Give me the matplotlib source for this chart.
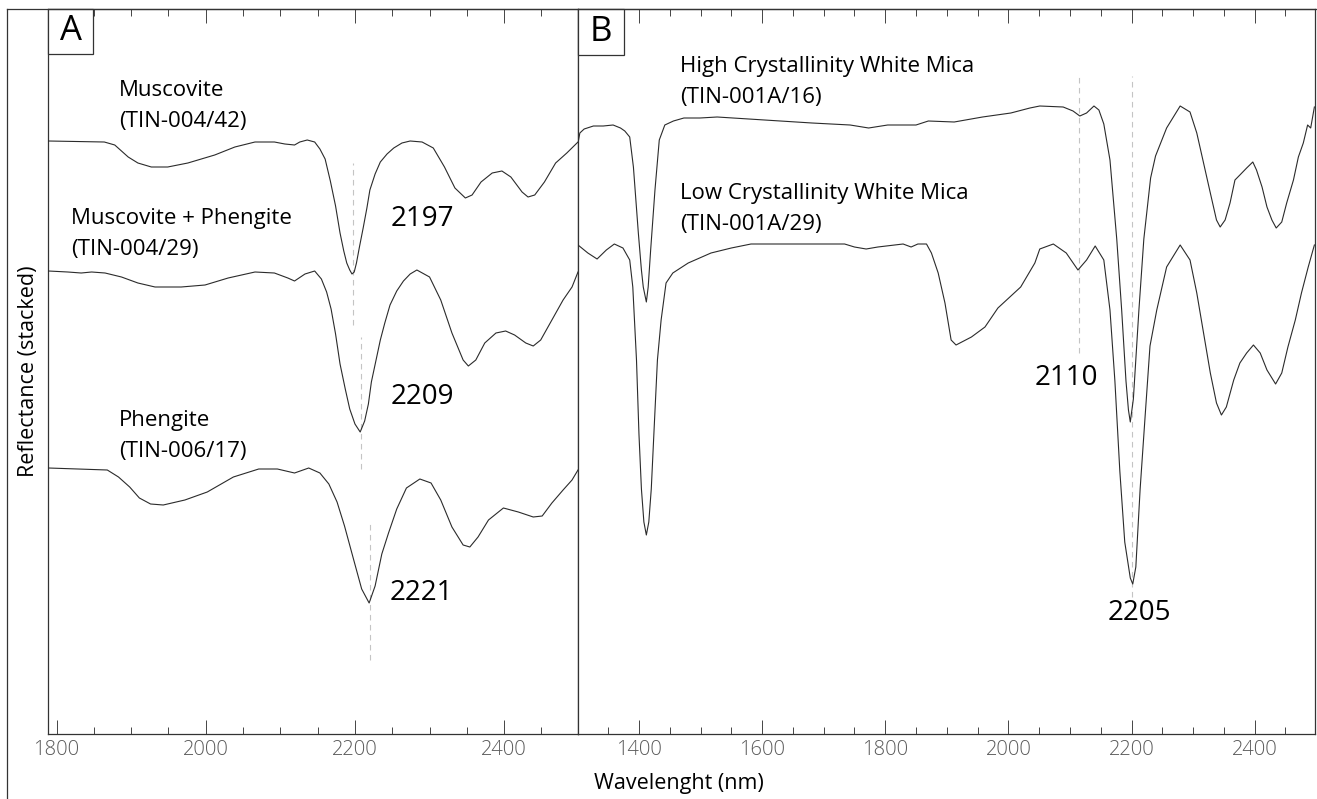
"""Stacked SWIR reflectance spectra of white micas (panels A and B)."""
import matplotlib
matplotlib.use("Agg")
import matplotlib.pyplot as plt
from matplotlib.lines import Line2D
from matplotlib.patches import Rectangle
from matplotlib.ticker import MultipleLocator

plt.rcParams["font.family"] = ["Open Sans", "DejaVu Sans"]

W, H = 1317, 799
LINE_CLR = "#2b2b2b"
DASH_CLR = "#c4c4c4"
TICK_CLR = "#5a5a5a"

# ── Panel A: stacked reflectance (offset units) ─────────────────────────────
musc_wl = [1789, 1864, 1878, 1896, 1909, 1927, 1949, 1976, 2012, 2039, 2066,
           2092, 2106, 2119, 2126, 2136, 2146, 2153, 2160, 2167, 2174, 2180,
           2185, 2189, 2193, 2196, 2199, 2202, 2206, 2211, 2216, 2220, 2227,
           2234, 2243, 2252, 2263, 2274, 2290, 2305, 2320, 2334, 2348, 2357,
           2369, 2384, 2397, 2409, 2424, 2432, 2441, 2454, 2469, 2484, 2499]
musc_r = [593, 592, 589, 577, 571, 567, 567, 571, 579, 587, 592,
          592, 590, 589, 592, 594, 592, 585, 575, 553, 528, 501,
          483, 471, 464, 460, 462, 471, 487, 506, 526, 544, 560,
          572, 580, 586, 591, 593, 592, 586, 567, 546, 536, 539,
          552, 561, 563, 557, 542, 537, 539, 552, 571, 581, 592]

mp_wl = [1789, 1815, 1833, 1847, 1865, 1887, 1909, 1932, 1967, 1999, 2030,
         2066, 2092, 2110, 2119, 2133, 2146, 2155, 2162, 2168, 2174, 2180,
         2187, 2193, 2200, 2207, 2213, 2218, 2222, 2228, 2234, 2240, 2247,
         2256, 2265, 2274, 2283, 2300, 2315, 2330, 2345, 2352, 2362, 2374,
         2389, 2402, 2414, 2429, 2439, 2449, 2464, 2479, 2491, 2499]
mp_r = [463, 462, 461, 462, 461, 457, 451, 447, 447, 449, 456,
        462, 461, 456, 453, 460, 463, 455, 442, 425, 400, 370,
        345, 325, 310, 302, 313, 330, 352, 373, 394, 411, 429,
        443, 453, 460, 464, 457, 434, 401, 374, 368, 374, 391,
        401, 403, 399, 391, 388, 394, 414, 434, 447, 462]

phen_wl = [1789, 1868, 1883, 1898, 1911, 1926, 1943, 1972, 2002, 2037, 2071,
           2096, 2119, 2138, 2153, 2165, 2176, 2186, 2198, 2209, 2219, 2227,
           2236, 2245, 2256, 2269, 2287, 2302, 2315, 2330, 2345, 2354, 2365,
           2379, 2399, 2419, 2439, 2451, 2464, 2479, 2491, 2499]
phen_r = [266, 264, 257, 247, 236, 230, 229, 234, 242, 257, 265,
          265, 261, 266, 261, 250, 232, 208, 175, 145, 131, 148,
          180, 201, 225, 246, 255, 251, 234, 207, 189, 187, 197,
          214, 226, 222, 217, 218, 231, 244, 254, 264]

# ── Panel B ─────────────────────────────────────────────────────────────────
high_wl = [1301, 1304, 1311, 1326, 1342, 1358, 1370, 1377, 1385, 1391, 1399,
           1404, 1407, 1412, 1415, 1419, 1426, 1433, 1442, 1456, 1473, 1499,
           1527, 1604, 1681, 1743, 1773, 1804, 1850, 1870, 1912, 1958, 2004,
           2035, 2051, 2089, 2105, 2116, 2127, 2139, 2147, 2155, 2165, 2176,
           2184, 2191, 2195, 2198, 2203, 2212, 2220, 2231, 2239, 2257, 2279,
           2295, 2306, 2317, 2328, 2338, 2344, 2352, 2360, 2368, 2376, 2387,
           2397, 2403, 2412, 2420, 2428, 2435, 2444, 2452, 2463, 2471, 2479,
           2486, 2491, 2497]
high_r = [591, 601, 605, 608, 608, 609, 606, 603, 597, 567, 501,
          464, 447, 432, 447, 484, 544, 594, 609, 613, 616, 616,
          617, 614, 611, 609, 606, 609, 609, 613, 612, 617, 621,
          626, 628, 627, 623, 618, 621, 628, 624, 610, 574, 495,
          424, 353, 324, 312, 335, 424, 495, 556, 578, 606, 628,
          622, 601, 571, 541, 514, 507, 514, 531, 554, 559, 566,
          572, 564, 547, 527, 514, 506, 512, 531, 554, 577, 591,
          609, 606, 627]

low_wl = [1301, 1317, 1332, 1347, 1360, 1374, 1385, 1390, 1396, 1400, 1404,
          1408, 1412, 1416, 1420, 1425, 1430, 1436, 1444, 1455, 1480, 1517,
          1550, 1582, 1734, 1750, 1769, 1788, 1829, 1842, 1853, 1867, 1875,
          1886, 1897, 1907, 1915, 1940, 1962, 1983, 2020, 2043, 2051, 2073,
          2094, 2113, 2127, 2141, 2155, 2165, 2173, 2181, 2189, 2198, 2202,
          2207, 2214, 2222, 2230, 2241, 2257, 2279, 2295, 2306, 2317, 2328,
          2338, 2346, 2354, 2366, 2376, 2387, 2398, 2409, 2420, 2434, 2444,
          2454, 2466, 2476, 2487, 2497]
low_r = [489, 481, 475, 484, 490, 486, 474, 447, 374, 300, 245,
         212, 199, 212, 245, 310, 374, 414, 451, 461, 471, 481,
         486, 490, 490, 487, 485, 487, 490, 487, 490, 490, 481,
         461, 431, 394, 389, 397, 407, 426, 447, 471, 485, 490,
         481, 464, 474, 488, 474, 424, 353, 263, 192, 156, 150,
         167, 245, 317, 388, 424, 467, 489, 474, 441, 401, 361,
         331, 319, 327, 354, 371, 381, 389, 381, 364, 350, 361,
         387, 414, 441, 467, 489]

# feature markers: (wavelength, lower, upper) and labels
a_marks = [(2197, 409, 571), (2208, 265, 397), (2219.5, 74, 211)]
a_feat_labels = ["2197", "2209", "2221"]
a_feat_pos = [(2290, 515), (2291, 337), (2289, 141)]
b_marks = [(2114, 381, 658), (2200, 137, 658)]
b_feat_labels = ["2110", "2205"]
b_feat_pos = [(2094, 356), (2212, 121)]

a_names = [("Muscovite", "(TIN-004/42)"),
           ("Muscovite + Phengite", "(TIN-004/29)"),
           ("Phengite", "(TIN-006/17)")]
a_name_pos = [(1884, 628), (1820, 500), (1884, 298)]
b_names = [("High Crystallinity White Mica", "(TIN-001A/16)"),
           ("Low Crystallinity White Mica", "(TIN-001A/29)")]
b_name_pos = [(1467, 652), (1467, 525)]


def style_axis(ax, xlim, majors):
    ax.set_xlim(*xlim)
    ax.set_ylim(0, 725)
    ax.set_yticks([])
    ax.set_xticks(majors)
    ax.xaxis.set_minor_locator(MultipleLocator(50))
    ax.tick_params(axis="x", which="major", direction="in", length=10,
                   width=0.7, top=True, color="#444", labelsize=14.5,
                   labelcolor=TICK_CLR, pad=4)
    ax.tick_params(axis="x", which="minor", direction="in", length=5,
                   width=0.7, top=True, color="#444")
    for lab in ax.get_xticklabels():
        lab.set_fontweight("light")
    for sp in ax.spines.values():
        sp.set_linewidth(0.9)
        sp.set_color("#333")


def panel_letter(ax, letter, w, h):
    ax.add_patch(Rectangle((0, 1 - h), w, h, transform=ax.transAxes,
                           facecolor="white", edgecolor="#333",
                           linewidth=0.9, zorder=5, clip_on=False))
    ax.text(w / 2, 1 - h / 2, letter, transform=ax.transAxes,
            ha="center", va="center", fontsize=25, zorder=6)


def name_label(ax, x, y, lines):
    ax.text(x, y + 15.5, lines[0], ha="left", va="center", fontsize=16)
    ax.text(x, y - 15.5, lines[1], ha="left", va="center", fontsize=16)


fig = plt.figure(figsize=(W / 100, H / 100), dpi=100, facecolor="white")
axA = fig.add_axes([48 / W, 1 - 734 / H, 530 / W, 725 / H])
axB = fig.add_axes([578 / W, 1 - 734 / H, 737 / W, 725 / H])

style_axis(axA, (1788.5, 2499), [1800, 2000, 2200, 2400])
style_axis(axB, (1301, 2498), [1400, 1600, 1800, 2000, 2200, 2400])

for wl, r in [(musc_wl, musc_r), (mp_wl, mp_r), (phen_wl, phen_r)]:
    axA.plot(wl, r, color=LINE_CLR, linewidth=0.8, zorder=3)
for wl, r in [(high_wl, high_r), (low_wl, low_r)]:
    axB.plot(wl, r, color=LINE_CLR, linewidth=0.8, zorder=3)

for ax, marks in [(axA, a_marks), (axB, b_marks)]:
    for x, lo, hi in marks:
        ax.plot([x, x], [lo, hi], color=DASH_CLR, linewidth=0.8,
                linestyle=(0, (5, 4)), zorder=2)

for (x, y), s in zip(a_feat_pos, a_feat_labels):
    axA.text(x, y, s, ha="center", va="center", fontsize=20)
for (x, y), s in zip(b_feat_pos, b_feat_labels):
    axB.text(x, y, s, ha="center", va="center", fontsize=20)

for (x, y), lines in zip(a_name_pos, a_names):
    name_label(axA, x, y, lines)
for (x, y), lines in zip(b_name_pos, b_names):
    name_label(axB, x, y, lines)

panel_letter(axA, "A", 45 / 530, 45 / 725)
panel_letter(axB, "B", 46 / 737, 46 / 725)

fig.text(28.5 / W, 1 - 371 / H, "Reflectance (stacked)", rotation=90,
         ha="center", va="center", fontsize=15.5)
fig.text(679 / W, 1 - 783 / H, "Wavelenght (nm)", ha="center", va="center",
         fontsize=15.5)

# outer frame (left and top edges)
fig.add_artist(Line2D([7 / W, 7 / W], [0, 1 - 9 / H], color="#333",
                      linewidth=0.9))
fig.add_artist(Line2D([7 / W, 1], [1 - 9 / H, 1 - 9 / H], color="#333",
                      linewidth=0.9))

fig.savefig("out.png", dpi=100, facecolor="white")
